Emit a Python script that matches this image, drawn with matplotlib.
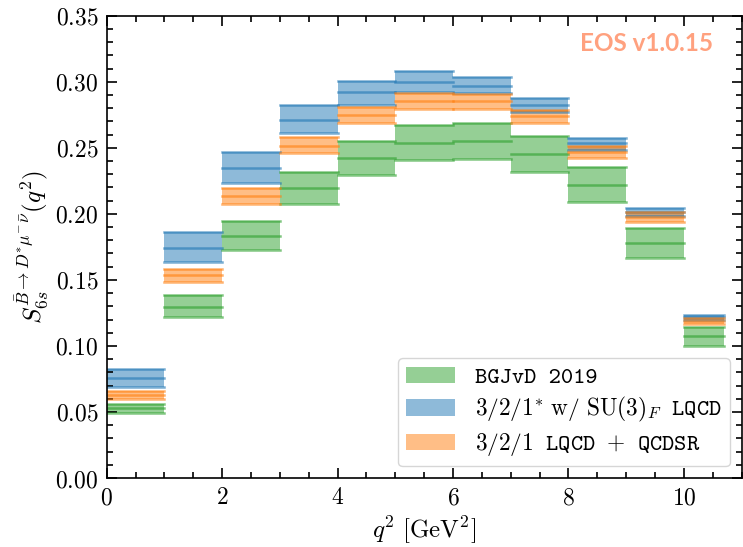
import matplotlib
matplotlib.use('Agg')
import matplotlib.pyplot as plt
from matplotlib.patches import Patch
from matplotlib.ticker import MultipleLocator, FormatStrFormatter

plt.rcParams['mathtext.fontset'] = 'cm'
plt.rcParams['font.family'] = 'serif'
plt.rcParams['font.serif'] = ['DejaVu Serif']

# bin edges in q^2 [GeV^2]
bin_edges = [0, 1, 2, 3, 4, 5, 6, 7, 8, 9, 10, 10.69]

# BGJvD 2019
bgjvd_lo = [0.0491, 0.1217, 0.1729, 0.2076, 0.2296, 0.2404, 0.2417, 0.2318, 0.2092, 0.1667, 0.1003]
bgjvd_c = [0.0529, 0.1297, 0.1832, 0.2195, 0.2422, 0.2538, 0.2553, 0.2454, 0.2220, 0.1776, 0.1076]
bgjvd_hi = [0.0564, 0.1385, 0.1948, 0.2316, 0.2553, 0.2674, 0.2689, 0.2590, 0.2351, 0.1890, 0.1146]

# 3/2/1* w/ SU(3)_F LQCD
su3_lo = [0.0692, 0.1633, 0.2235, 0.2611, 0.2827, 0.2926, 0.2913, 0.2772, 0.2481, 0.1980, 0.1200]
su3_c = [0.0756, 0.1738, 0.2349, 0.2714, 0.2920, 0.3001, 0.2971, 0.2825, 0.2540, 0.2013, 0.1222]
su3_hi = [0.0826, 0.1859, 0.2467, 0.2822, 0.3009, 0.3079, 0.3039, 0.2878, 0.2577, 0.2046, 0.1237]

# 3/2/1 LQCD + QCDSR
sr_lo = [0.0600, 0.1486, 0.2074, 0.2457, 0.2686, 0.2797, 0.2797, 0.2684, 0.2419, 0.1940, 0.1164]
sr_c = [0.0630, 0.1534, 0.2132, 0.2517, 0.2752, 0.2858, 0.2855, 0.2737, 0.2468, 0.1978, 0.1190]
sr_hi = [0.0660, 0.1582, 0.2192, 0.2578, 0.2812, 0.2913, 0.2905, 0.2787, 0.2512, 0.2015, 0.1209]

# typewriter parts come from the legend font (cmtt10), maths parts from mathtext
labels = ['BGJvD 2019',
          r'$3/2/1^{*}\ \mathrm{w/\ SU}(3)_F$ LQCD',
          r'$3/2/1$ LQCD $+$ QCDSR']
colors = ['tab:green', 'tab:blue', 'tab:orange']
datasets = [(bgjvd_lo, bgjvd_c, bgjvd_hi),
            (su3_lo, su3_c, su3_hi),
            (sr_lo, sr_c, sr_hi)]

fig = plt.figure(figsize=(7.43, 5.47), dpi=100)
ax = fig.add_axes([0.1436, 0.1261, 0.8546, 0.8452])

for (lo, c, hi), col in zip(datasets, colors):
    for i in range(len(lo)):
        x0, x1 = bin_edges[i], bin_edges[i + 1]
        ax.fill_between([x0, x1], [lo[i]] * 2, [hi[i]] * 2, color=col, alpha=0.5, lw=0)
        for v in (lo[i], c[i], hi[i]):
            ax.plot([x0, x1], [v, v], color=col, alpha=0.6, lw=1.8)

handles = [Patch(facecolor=col, alpha=0.5, edgecolor='none') for col in colors]
ax.legend(handles, labels, loc='lower right',
          prop={'family': ['cmtt10'], 'size': 16.8},
          handlelength=2.1, handleheight=0.72, handletextpad=0.85,
          labelspacing=0.3, borderpad=0.35)

ax.set_xlim(0, 11)
ax.set_ylim(0, 0.35)
ax.xaxis.set_major_locator(MultipleLocator(2))
ax.xaxis.set_minor_locator(MultipleLocator(0.5))
ax.yaxis.set_major_locator(MultipleLocator(0.05))
ax.yaxis.set_minor_locator(MultipleLocator(0.01))
ax.xaxis.set_major_formatter(FormatStrFormatter(r'$%d$'))
ax.yaxis.set_major_formatter(FormatStrFormatter(r'$%.2f$'))
ax.tick_params(which='both', direction='in', top=True, right=True, width=1.2)
ax.tick_params(which='major', length=7, labelsize=17, pad=6)
ax.tick_params(which='minor', length=4)
for s in ax.spines.values():
    s.set_linewidth(1.2)

ax.set_xlabel(r'$q^2\ [\mathrm{GeV}^2]$', fontsize=18)
ax.set_ylabel(r'$S_{6s}^{\bar{B}\to D^{*}\mu^{-}\bar{\nu}}(q^2)$', fontsize=18)

ax.text(0.955, 0.94, 'EOS v1.0.15', transform=ax.transAxes, ha='right', va='center',
        color='OrangeRed', alpha=0.5, fontsize=17.5, fontweight='bold', family='Lato')

fig.savefig('out.png', dpi=100)
